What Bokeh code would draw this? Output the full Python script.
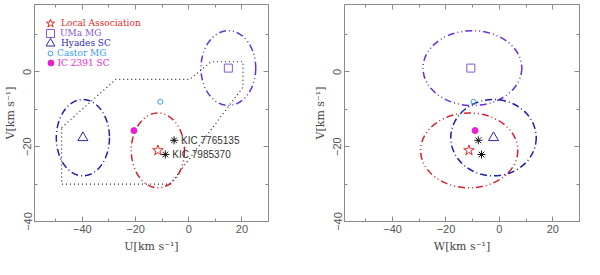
from bokeh.plotting import figure
from bokeh.models import (Range1d, FixedTicker, LinearAxis, Legend, LegendItem,
                          CustomLabelingPolicy)
from bokeh.layouts import row
from bokeh.embed import file_html
from bokeh.resources import INLINE
from bokeh.core.properties import value

# ---- data ----
groups = ["Local Association", "UMa MG", "Hyades SC", "Castor MG", "IC 2391 SC"]
grp_U = [-11.6, 14.9, -39.8, -10.7, -20.6]
grp_V = [-21.0, 1.0, -17.6, -8.0, -15.7]
grp_W = [-11.4, -10.7, -2.2, -9.7, -9.1]

# ellipses (LA, UMa, Hyades): full widths / heights in km/s
ell_names = ["Local Association", "UMa MG", "Hyades SC"]
ell_U = [-11.6, 14.9, -39.8]
ell_V = [-21.0, 1.0, -17.6]
ell_W = [-11.3, -10.1, -2.2]
ell_width_U = [20.0, 20.6, 20.0]
ell_width_W = [36.4, 37.0, 32.0]
ell_height_V = [20.0, 20.0, 20.4]

kic_names = ["KIC 7765135", "KIC 7985370"]
kic_U = [-5.5, -8.8]
kic_V = [-18.3, -22.1]
kic_W = [-7.9, -6.7]

# young-disk boundary (dotted polygon) in U-V
poly_U = [-47.8, -27.4, 0.4, 8.4, 20.4, 20.4, -6.9, -47.8, -47.8]
poly_V = [-14.9, -2.0, -2.0, 2.7, 2.7, -4.1, -30.0, -30.0, -14.9]

x_major = [-40, -20, 0, 20]
x_minor = [-50, -30, -10, 10]
y_major = [-40, -20, 0]
y_minor = [-30, -10, 10]
tick_text = {-40: "\u221240", -20: "\u221220", 0: "0", 20: "20"}

# ---- styles ----
colors = ["#e02828", "#8a55d8", "#2a2ab4", "#3a9ae8", "#e81ed0"]
ell_colors = ["#d42030", "#6a30d8", "#2020b0"]
ell_dash = ["7 3 1 3 1 3", "7 3 1 3 1 3", "7 3 1 3"]
markers = ["star", "square", "triangle", "circle", "circle"]
msizes = [11, 8, 10, 5, 6]
mfill = [None, None, None, None, "#e81ed0"]
leg_glyph = [22, 20, 22, 12, 15]

AX = "#8a8a8a"
LBL = "#555555"
H = 259
FB, FT = 38, 3


def style_axis(ax, major, minor, show_labels, vertical=False):
    ax.ticker = FixedTicker(ticks=major, minor_ticks=minor)
    ax.major_tick_in = 5
    ax.major_tick_out = 0
    ax.minor_tick_in = 3
    ax.minor_tick_out = 0
    ax.axis_line_color = AX
    ax.major_tick_line_color = AX
    ax.minor_tick_line_color = AX
    if show_labels:
        ax.major_label_overrides = tick_text
        ax.major_label_text_font = "Liberation Sans"
        ax.major_label_text_font_size = "11px"
        ax.major_label_text_color = LBL
        ax.major_label_standoff = 3
        ax.axis_label_text_font = "DejaVu Serif"
        ax.axis_label_text_font_size = "11px"
        ax.axis_label_text_font_style = "normal"
        ax.axis_label_text_color = "#444444"
        ax.axis_label_standoff = 4
        if vertical:
            ax.major_label_orientation = "vertical"
    else:
        ax.major_label_policy = CustomLabelingPolicy(code="return new Set()")
        ax.major_label_text_font_size = "1px"
        ax.major_label_standoff = 0


def make_panel(xs, xlabel, width, bl, br, ell_x, ell_w, with_kic_text, legend):
    p = figure(width=width, height=H, x_range=Range1d(-58, 30), y_range=Range1d(-40, 18),
               output_backend="svg", toolbar_location=None,
               min_border_left=bl, min_border_right=br, min_border_top=FT, min_border_bottom=FB)
    p.grid.visible = False
    p.outline_line_color = AX
    p.background_fill_color = "white"
    style_axis(p.xaxis[0], x_major, x_minor, True)
    style_axis(p.yaxis[0], y_major, y_minor, True, vertical=True)
    p.xaxis[0].axis_label = xlabel
    p.yaxis[0].axis_label = "V[km s\u207b\u00b9]"
    top = LinearAxis()
    style_axis(top, x_major, x_minor, False)
    right = LinearAxis()
    style_axis(right, y_major, y_minor, False)
    p.add_layout(top, "above")
    p.add_layout(right, "right")

    if xs is grp_U:
        p.line(poly_U, poly_V, line_color="#222222", line_width=1.2, line_dash="1 3")

    for i in range(3):
        p.ellipse(x=[ell_x[i]], y=[ell_V[i]], width=[ell_w[i]], height=[ell_height_V[i]],
                  fill_color=None, line_color=ell_colors[i], line_width=1.5, line_dash=ell_dash[i])

    rends = []
    for i in range(5):
        r = p.scatter([xs[i]], [grp_V[i]], marker=markers[i], size=msizes[i],
                      line_color=colors[i], fill_color=mfill[i], line_width=1)
        rends.append(r)

    kx = kic_U if xs is grp_U else kic_W
    p.scatter(kx, kic_V, marker="asterisk", size=8, line_color="#111111", line_width=1)
    if with_kic_text:
        p.text(kx, kic_V, text=kic_names, x_offset=7, text_baseline="middle",
               text_font=value("Liberation Sans"), text_font_size="10px", text_color="#333333")

    if legend:
        fh = H - FT - FB
        for i in range(5):
            g = leg_glyph[i]
            cy = 19.5 + 10 * i
            vx = 16 - g / 2
            vy = fh - (cy - g / 2) - g
            lg = Legend(items=[LegendItem(label=groups[i], renderers=[rends[i]])],
                        location=(vx, vy), padding=0, margin=0, spacing=0,
                        glyph_width=g, glyph_height=g, label_height=1,
                        label_standoff=int(round(7 - g / 2)),
                        label_text_font="DejaVu Serif", label_text_font_size="9px",
                        label_text_color=colors[i], border_line_alpha=0,
                        background_fill_alpha=0)
            p.add_layout(lg)
    return p


p1 = make_panel(grp_U, "U[km s\u207b\u00b9]", 276, 28, 8, ell_U, ell_width_U, True, True)
p2 = make_panel(grp_W, "W[km s\u207b\u00b9]", 308, 68, 2, ell_W, ell_width_W, False, False)

layout = row(p1, p2)
open("out.html", "w").write(file_html(layout, INLINE))
